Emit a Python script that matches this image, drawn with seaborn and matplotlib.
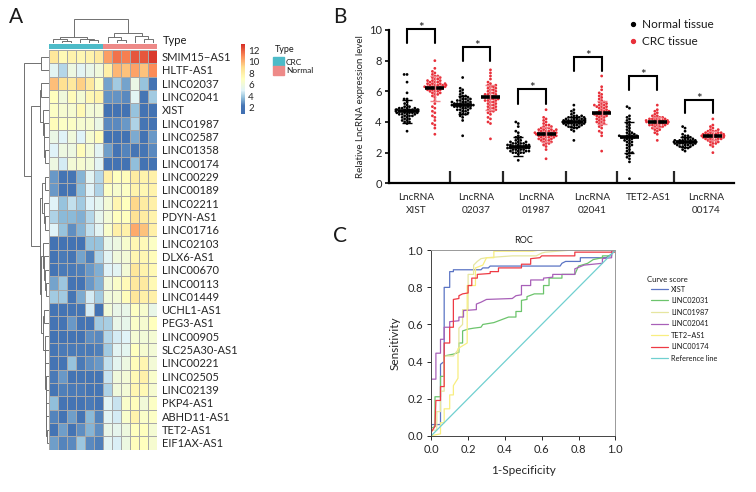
import numpy as np
import pandas as pd
import seaborn as sns
import matplotlib
matplotlib.use("Agg")
import matplotlib.pyplot as plt
from matplotlib.colors import ListedColormap, LinearSegmentedColormap, Normalize
from matplotlib.lines import Line2D
from matplotlib.patches import Patch

# ---- heatmap data ----
genes = ["SMIM15−AS1", "HLTF-AS1", "LINC02037", "LINC02041", "XIST", "LINC01987", "LINC02587",
         "LINC01358", "LINC00174", "LINC00229", "LINC00189", "LINC02211", "PDYN-AS1", "LINC01716",
         "LINC02103", "DLX6-AS1", "LINC00670", "LINC00113", "LINC01449", "UCHL1-AS1", "PEG3-AS1",
         "LINC00905", "SLC25A30-AS1", "LINC00221", "LINC02505", "LINC02139", "PKP4-AS1",
         "ABHD11-AS1", "TET2-AS1", "EIF1AX-AS1"]
expr = [
    [8.5, 7.4, 7.8, 7.5, 7.8, 8.3, 10.6, 11.6, 11.3, 12.2, 12.2, 12.9],
    [5.2, 4.3, 5.8, 5.2, 5.6, 6.0, 8.0, 10.0, 9.7, 10.5, 9.7, 11.0],
    [9.8, 8.9, 8.4, 9.4, 8.4, 6.8, 3.2, 4.0, 3.2, 5.7, 3.8, 2.0],
    [7.0, 6.0, 7.2, 6.3, 7.5, 7.8, 2.9, 2.9, 2.7, 5.2, 2.2, 4.0],
    [6.8, 6.4, 6.4, 7.4, 6.2, 6.2, 1.8, 1.8, 1.8, 3.8, 1.8, 1.8],
    [7.2, 6.8, 6.8, 6.4, 6.4, 5.7, 2.7, 2.7, 3.0, 4.2, 2.2, 2.1],
    [5.7, 5.0, 6.0, 5.0, 6.4, 7.2, 1.9, 1.9, 1.9, 3.3, 1.8, 3.0],
    [5.0, 5.8, 5.8, 7.2, 6.2, 5.2, 3.1, 2.0, 2.6, 2.3, 2.2, 2.7],
    [5.8, 4.8, 6.2, 6.4, 6.1, 5.2, 1.9, 1.8, 1.9, 3.7, 1.9, 1.9],
    [3.0, 2.0, 2.3, 3.5, 5.2, 4.3, 8.0, 7.0, 7.2, 8.2, 7.8, 7.9],
    [3.0, 1.9, 1.9, 3.7, 5.0, 4.2, 6.8, 6.5, 6.8, 7.8, 7.5, 7.8],
    [5.0, 3.8, 4.5, 4.0, 5.0, 5.3, 6.2, 7.6, 7.0, 9.2, 8.2, 8.0],
    [4.2, 3.6, 3.6, 3.4, 4.3, 5.4, 6.2, 7.0, 7.0, 8.8, 8.2, 7.8],
    [5.0, 3.8, 2.8, 3.5, 4.5, 5.2, 6.6, 8.0, 7.9, 10.3, 9.7, 8.0],
    [1.8, 1.9, 1.9, 1.9, 3.8, 3.8, 5.5, 5.8, 6.5, 7.5, 7.3, 6.8],
    [2.1, 2.4, 2.2, 3.2, 2.5, 4.2, 5.2, 6.0, 6.2, 7.6, 7.5, 7.2],
    [2.1, 2.4, 2.4, 2.5, 3.0, 3.4, 5.0, 5.2, 6.2, 8.5, 7.8, 7.4],
    [3.2, 3.9, 2.0, 2.0, 3.0, 3.5, 6.0, 6.7, 7.3, 8.4, 8.3, 7.4],
    [4.0, 4.0, 2.3, 3.3, 4.8, 4.0, 6.0, 6.2, 7.2, 8.5, 8.0, 8.0],
    [2.0, 2.0, 2.2, 2.3, 4.8, 1.9, 6.1, 5.6, 5.6, 6.9, 6.5, 5.6],
    [2.0, 2.0, 3.0, 2.0, 2.0, 4.0, 4.1, 5.6, 5.5, 6.7, 6.4, 7.0],
    [1.9, 1.9, 2.0, 1.9, 2.8, 2.7, 4.3, 4.8, 5.0, 6.3, 6.1, 6.3],
    [2.2, 2.4, 2.4, 2.4, 2.4, 2.5, 4.0, 5.2, 5.3, 7.0, 6.4, 6.2],
    [2.1, 2.1, 3.8, 2.4, 2.8, 3.0, 4.5, 5.3, 5.8, 7.2, 7.6, 6.2],
    [2.4, 3.0, 2.1, 2.3, 2.2, 2.2, 4.6, 6.0, 6.2, 7.4, 7.9, 6.6],
    [2.3, 2.5, 2.4, 2.4, 2.2, 2.3, 4.2, 6.0, 6.2, 7.6, 7.4, 6.4],
    [3.7, 2.1, 2.1, 2.1, 2.4, 2.0, 5.1, 4.6, 6.6, 7.1, 6.1, 6.8],
    [2.6, 2.1, 3.1, 2.0, 3.6, 2.6, 5.2, 4.8, 6.6, 7.8, 6.7, 6.8],
    [2.0, 3.1, 2.1, 2.8, 3.5, 2.8, 5.6, 5.4, 5.9, 7.0, 7.0, 6.3],
    [3.1, 2.6, 2.7, 3.9, 2.7, 2.5, 5.2, 4.9, 5.8, 7.1, 7.0, 6.4],
]
sample_type = [0] * 6 + [1] * 6
type_names = ["CRC", "Normal"]

# dendrograms as (height, left, right), leaves are row/column numbers
col_tree = (24, (6.5, (4, 0, (2.5, 1, 2)), (4.5, 3, (3, 4, 5))),
            (10, (6, 6, (3.5, 7, 8)), (7, 9, (4, 10, 11))))
row_top = (9, (8, 2, 3), (6, 4, (5, 5, (4.5, 6, (4, 7, 8)))))
row_mid = (6.5, (4, 9, 10), (5, 11, (4, 12, 13)))
row_a = (6, 14, (4.5, 15, (3.5, 16, (3, 17, 18))))
row_b = (5.5, (4.5, 19, 20), (4, 21, (3.6, 22, (3.2, 23, (3, 24, (2.7, 25, (2.4, 26, (2.2, 27, (2, 28, 29)))))))))
row_tree = (24.3, (7.6, 0, 1), (18, row_top, (9, row_mid, (8, row_a, row_b))))

# ---- beeswarm data ----
xist_n = [3.4, 3.9, 4.0, 4.0, 4.1, 4.1, 4.2, 4.2, 4.3, 4.3, 4.4, 4.4, 4.4, 4.5, 4.5, 4.5, 4.5, 4.6, 4.6, 4.6,
          4.6, 4.6, 4.7, 4.7, 4.7, 4.7, 4.7, 4.7, 4.8, 4.8, 4.8, 4.8, 4.8, 4.8, 4.8, 4.9, 4.9, 4.9, 4.9, 5.0,
          5.0, 5.1, 5.2, 5.3, 5.5, 5.5, 5.9, 6.6, 7.1, 7.1]
xist_c = [3.2, 3.6, 3.8, 3.9, 4.1, 4.3, 4.4, 4.6, 4.7, 4.9, 5.0, 5.2, 5.4, 5.6, 5.7, 5.8, 5.8, 5.9, 5.9, 6.0,
          6.0, 6.0, 6.1, 6.1, 6.1, 6.2, 6.2, 6.2, 6.2, 6.3, 6.3, 6.3, 6.3, 6.3, 6.4, 6.4, 6.4, 6.4, 6.4, 6.5,
          6.5, 6.5, 6.5, 6.6, 6.6, 6.6, 6.7, 6.7, 6.7, 6.8, 6.8, 6.9, 6.9, 7.0, 7.0, 7.1, 7.2, 7.3, 7.5, 8.0]
l02037_n = [3.1, 4.1, 4.3, 4.4, 4.5, 4.5, 4.6, 4.6, 4.7, 4.7, 4.8, 4.8, 4.8, 4.9, 4.9, 4.9, 5.0, 5.0, 5.0, 5.0,
            5.1, 5.1, 5.1, 5.1, 5.1, 5.2, 5.2, 5.2, 5.2, 5.3, 5.3, 5.3, 5.3, 5.4, 5.4, 5.4, 5.5, 5.5, 5.5, 5.6,
            5.6, 5.7, 5.7, 5.8, 5.9, 6.0, 6.1, 6.2, 6.9]
l02037_c = [2.9, 3.9, 4.0, 4.2, 4.3, 4.5, 4.6, 4.7, 4.7, 4.8, 4.8, 4.9, 4.9, 5.0, 5.0, 5.1, 5.1, 5.2, 5.2, 5.3,
            5.3, 5.4, 5.4, 5.4, 5.5, 5.5, 5.5, 5.6, 5.6, 5.6, 5.7, 5.7, 5.8, 5.8, 5.8, 5.9, 5.9, 6.0, 6.0, 6.1,
            6.1, 6.2, 6.2, 6.3, 6.3, 6.4, 6.4, 6.5, 6.6, 6.8, 7.0, 7.2, 7.4]
l01987_n = [1.5, 1.9, 2.0, 2.0, 2.0, 2.0, 2.1, 2.1, 2.1, 2.1, 2.2, 2.2, 2.2, 2.2, 2.3, 2.3, 2.3, 2.3, 2.3, 2.4,
            2.4, 2.4, 2.4, 2.4, 2.5, 2.5, 2.5, 2.5, 2.5, 2.6, 2.6, 2.6, 2.6, 2.7, 2.7, 2.7, 2.8, 2.8, 2.9, 3.0,
            3.0, 3.1, 3.3, 3.4, 3.7, 3.9, 4.0]
l01987_c = [1.6, 2.2, 2.4, 2.5, 2.6, 2.6, 2.7, 2.7, 2.8, 2.8, 2.8, 2.9, 2.9, 2.9, 3.0, 3.0, 3.0, 3.0, 3.1, 3.1,
            3.1, 3.1, 3.2, 3.2, 3.2, 3.2, 3.2, 3.3, 3.3, 3.3, 3.3, 3.3, 3.4, 3.4, 3.4, 3.4, 3.5, 3.5, 3.5, 3.5,
            3.6, 3.6, 3.6, 3.7, 3.7, 3.8, 3.8, 3.9, 4.0, 4.1, 4.2, 4.3, 4.8]
l02041_n = [2.8, 3.4, 3.5, 3.6, 3.6, 3.7, 3.7, 3.7, 3.8, 3.8, 3.8, 3.8, 3.9, 3.9, 3.9, 3.9, 3.9, 4.0, 4.0, 4.0,
            4.0, 4.0, 4.0, 4.1, 4.1, 4.1, 4.1, 4.1, 4.1, 4.2, 4.2, 4.2, 4.2, 4.2, 4.3, 4.3, 4.3, 4.3, 4.4, 4.4,
            4.4, 4.5, 4.6, 4.7, 4.8, 5.1]
l02041_c = [2.1, 3.1, 3.3, 3.4, 3.6, 3.7, 3.8, 3.9, 3.9, 4.0, 4.0, 4.1, 4.1, 4.2, 4.2, 4.3, 4.3, 4.4, 4.4, 4.4,
            4.5, 4.5, 4.5, 4.6, 4.6, 4.6, 4.7, 4.7, 4.7, 4.8, 4.8, 4.9, 4.9, 5.0, 5.0, 5.0, 5.1, 5.1, 5.1, 5.2,
            5.2, 5.3, 5.3, 5.4, 5.5, 5.6, 5.7, 5.8, 5.9, 6.1, 6.3, 7.0]
tet2_n = [0.3, 1.4, 1.6, 1.7, 1.8, 1.9, 2.0, 2.0, 2.1, 2.2, 2.3, 2.4, 2.5, 2.5, 2.6, 2.7, 2.7, 2.8, 2.8, 2.9,
          2.9, 3.0, 3.0, 3.0, 3.0, 3.1, 3.1, 3.1, 3.1, 3.2, 3.2, 3.3, 3.3, 3.4, 3.5, 3.6, 3.7, 3.8, 3.9, 4.0,
          4.1, 4.2, 4.3, 4.4, 4.9, 5.0]
tet2_c = [2.8, 3.2, 3.3, 3.4, 3.5, 3.5, 3.6, 3.6, 3.7, 3.7, 3.7, 3.8, 3.8, 3.8, 3.8, 3.9, 3.9, 3.9, 3.9, 4.0,
          4.0, 4.0, 4.0, 4.0, 4.0, 4.1, 4.1, 4.1, 4.1, 4.1, 4.2, 4.2, 4.2, 4.2, 4.3, 4.3, 4.3, 4.4, 4.4, 4.5,
          4.6, 4.7, 4.8, 5.1]
l00174_n = [2.1, 2.2, 2.3, 2.3, 2.4, 2.4, 2.4, 2.5, 2.5, 2.5, 2.5, 2.6, 2.6, 2.6, 2.6, 2.6, 2.7, 2.7, 2.7, 2.7,
            2.7, 2.7, 2.8, 2.8, 2.8, 2.8, 2.8, 2.9, 2.9, 2.9, 3.0, 3.0, 3.1, 3.1, 3.2, 3.4, 3.6, 3.7]
l00174_c = [2.0, 2.4, 2.5, 2.6, 2.6, 2.7, 2.7, 2.8, 2.8, 2.8, 2.9, 2.9, 2.9, 2.9, 3.0, 3.0, 3.0, 3.0, 3.0, 3.1,
            3.1, 3.1, 3.1, 3.1, 3.1, 3.2, 3.2, 3.2, 3.2, 3.2, 3.3, 3.3, 3.3, 3.3, 3.4, 3.4, 3.4, 3.5, 3.5, 3.6,
            3.7, 3.8, 4.2]
swarm_values = [xist_n, xist_c, l02037_n, l02037_c, l01987_n, l01987_c,
                l02041_n, l02041_c, tet2_n, tet2_c, l00174_n, l00174_c]
group_means = [4.7, 6.2, 5.1, 5.6, 2.4, 3.2, 4.0, 4.6, 3.0, 4.0, 2.7, 3.1]
group_sds = [0.75, 0.8, 0.6, 0.8, 0.6, 0.5, 0.3, 0.75, 1.0, 0.35, 0.3, 0.3]
bracket_low = [9.17, 8.0, 5.2, 7.35, 6.08, 4.56]
bracket_top = [10.05, 8.9, 6.13, 8.26, 6.98, 5.45]
lnc_labels = ["LncRNA\nXIST", "LncRNA\n02037", "LncRNA\n01987", "LncRNA\n02041", "TET2-AS1", "LncRNA\n00174"]
lnc_label_pos = [0.32, 2.48, 4.64, 6.65, 8.67, 10.76]
divider_pos = [1.55, 3.45, 5.7, 7.55, 9.6]

# ---- ROC data ----
roc_curves = {
    "XIST": ([0, 0, 0.05, 0.05, 0.07, 0.07, 0.10, 0.10, 0.12, 0.12, 0.27, 0.28, 0.31, 0.32, 0.70, 0.71, 0.73, 0.81, 0.81, 0.95, 0.98, 1],
             [0, 0.06, 0.06, 0.385, 0.40, 0.80, 0.80, 0.885, 0.885, 0.895, 0.895, 0.905, 0.905, 0.915, 0.915, 0.93, 0.94, 0.94, 0.96, 0.96, 0.98, 1]),
    "LINC02031": ([0, 0, 0.02, 0.02, 0.05, 0.05, 0.07, 0.07, 0.12, 0.15, 0.15, 0.17, 0.17, 0.2, 0.23, 0.27, 0.28, 0.34, 0.38, 0.42, 0.46, 0.46, 0.49, 0.49, 0.52, 0.52, 0.56, 0.61, 0.61, 0.64, 0.64, 0.71, 0.71, 0.78, 0.80, 0.85, 0.88, 0.93, 0.93, 0.98, 0.98, 1],
                  [0, 0.04, 0.05, 0.21, 0.21, 0.32, 0.32, 0.43, 0.44, 0.45, 0.50, 0.50, 0.565, 0.575, 0.58, 0.585, 0.60, 0.61, 0.625, 0.64, 0.64, 0.67, 0.67, 0.73, 0.735, 0.75, 0.765, 0.765, 0.81, 0.81, 0.85, 0.85, 0.87, 0.87, 0.915, 0.93, 0.95, 0.96, 0.97, 0.97, 1, 1]),
    "LINC01987": ([0, 0, 0.03, 0.03, 0.05, 0.05, 0.07, 0.07, 0.12, 0.15, 0.15, 0.17, 0.17, 0.2, 0.2, 0.23, 0.23, 0.25, 0.27, 0.3, 0.44, 0.57, 0.6, 0.62, 0.75, 1],
                  [0, 0.03, 0.03, 0.13, 0.13, 0.24, 0.24, 0.43, 0.43, 0.47, 0.58, 0.60, 0.68, 0.68, 0.87, 0.87, 0.92, 0.94, 0.955, 0.96, 0.97, 0.97, 0.985, 0.99, 1, 1]),
    "LINC02041": ([0, 0, 0.025, 0.025, 0.05, 0.05, 0.07, 0.07, 0.1, 0.1, 0.15, 0.15, 0.175, 0.175, 0.245, 0.245, 0.27, 0.3, 0.44, 0.46, 0.49, 0.49, 0.54, 0.54, 0.61, 0.61, 0.66, 0.66, 0.78, 0.78, 0.83, 0.93, 0.93, 0.98, 0.98, 1],
                  [0, 0.305, 0.305, 0.445, 0.445, 0.52, 0.52, 0.585, 0.585, 0.615, 0.62, 0.64, 0.64, 0.675, 0.68, 0.71, 0.72, 0.735, 0.74, 0.755, 0.76, 0.81, 0.81, 0.84, 0.84, 0.85, 0.855, 0.87, 0.87, 0.90, 0.92, 0.93, 0.955, 0.96, 1, 1]),
    "TET2−AS1": ([0, 0.05, 0.05, 0.07, 0.07, 0.1, 0.1, 0.12, 0.12, 0.145, 0.145, 0.195, 0.195, 0.24, 0.24, 0.28, 0.3, 0.34, 0.34, 0.55, 0.58, 1],
                 [0, 0.01, 0.07, 0.07, 0.145, 0.145, 0.22, 0.22, 0.27, 0.31, 0.47, 0.5, 0.81, 0.81, 0.905, 0.92, 0.96, 0.96, 0.995, 0.995, 1, 1]),
    "LINC00174": ([0, 0.02, 0.025, 0.05, 0.05, 0.07, 0.07, 0.1, 0.1, 0.12, 0.12, 0.15, 0.15, 0.17, 0.2, 0.2, 0.22, 0.22, 0.25, 0.25, 0.32, 0.32, 0.365, 0.365, 0.49, 0.49, 0.54, 0.54, 0.59, 0.6, 0.78, 0.78, 1, 1],
                  [0.02, 0.05, 0.19, 0.19, 0.265, 0.265, 0.5, 0.5, 0.585, 0.585, 0.735, 0.74, 0.755, 0.765, 0.77, 0.81, 0.81, 0.85, 0.85, 0.87, 0.875, 0.885, 0.885, 0.905, 0.905, 0.925, 0.925, 0.955, 0.96, 0.97, 0.97, 0.99, 0.99, 1]),
    "Reference line": ([0, 1], [0, 1]),
}
roc_colors = ["#5b74c4", "#6cc46c", "#e6e6a0", "#a860b8", "#f8ee80", "#ee3a44", "#70d0d0"]
heat_levels = [0.8, 2.3, 3.7, 5.0, 7.0, 9.0, 11.0, 13.1]
heat_colors = ["#3f6fb2", "#4575b4", "#91bfdb", "#e0f3f8", "#ffffbf", "#fee090", "#fc8d59", "#d73027"]

W, H = 756, 492
TEAL, SALMON = "#4dbbc8", "#ee8a88"

sns.set_theme(style="white")
plt.rcParams["font.family"] = ["Lato", "DejaVu Sans"]
plt.rcParams["text.color"] = "#1a1a1a"
fig = plt.figure(figsize=(W / 100, H / 100), dpi=100)


def box(left, top, right, bottom):
    return fig.add_axes([left / W, 1 - bottom / H, (right - left) / W, (bottom - top) / H])


def label(x, y, s, **kw):
    fig.text(x / W, 1 - y / H, s, va="center", **kw)


def draw_tree(ax, node, horizontal):
    if not isinstance(node, tuple):
        return node + 0.5, 0
    pa, ha = draw_tree(ax, node[1], horizontal)
    pb, hb = draw_tree(ax, node[2], horizontal)
    pos = [pa, pa, pb, pb]
    hts = [ha, node[0], node[0], hb]
    xy = (pos, hts) if horizontal else (hts, pos)
    ax.plot(*xy, color="#707070", lw=0.7, solid_joinstyle="miter")
    return (pa + pb) / 2, node[0]


# ---- A: heatmap ----
ax_hm = box(48.6, 50, 157.4, 449.5)
ax_cb = box(240.8, 44.3, 245.4, 114.3)
hm_df = pd.DataFrame(expr, index=genes)
heat_norm = Normalize(heat_levels[0], heat_levels[-1])
heat_cmap = LinearSegmentedColormap.from_list("heat", list(zip(heat_norm(heat_levels), heat_colors)))
sns.heatmap(hm_df, ax=ax_hm, cmap=heat_cmap, vmin=0.8, vmax=13.1, linewidths=0.5, linecolor="#a8a8a8",
            xticklabels=False, yticklabels=True, cbar_ax=ax_cb, cbar_kws={"ticks": [2, 4, 6, 8, 10, 12]})
ax_hm.set_xlabel("")
ax_hm.yaxis.tick_right()
ax_hm.tick_params(axis="y", length=0, pad=3, labelsize=8, labelrotation=0)
ax_cb.tick_params(length=0, pad=2, labelsize=7)
for s in ax_cb.spines.values():
    s.set_visible(False)

ax_ann = box(48.6, 43.7, 157.4, 49)
sns.heatmap(pd.DataFrame([sample_type]), ax=ax_ann, cmap=ListedColormap([TEAL, SALMON]), cbar=False,
            xticklabels=False, yticklabels=False)
label(163, 41, "Type", fontsize=8)

ax_top = box(48.6, 17, 157.4, 43)
draw_tree(ax_top, col_tree, True)
ax_top.set_xlim(0, 12)
ax_top.set_ylim(0, 26)
ax_top.axis("off")

ax_left = box(22, 50, 48.6, 449.5)
draw_tree(ax_left, row_tree, False)
ax_left.set_xlim(26.6, 0)
ax_left.set_ylim(30, 0)
ax_left.axis("off")

label(275, 49, "Type", fontsize=6.5)
fig.legend(handles=[Patch(color=TEAL, label=type_names[0]), Patch(color=SALMON, label=type_names[1])],
           loc="upper left", bbox_to_anchor=(273 / W, 1 - 57.5 / H), frameon=False, fontsize=6,
           handlelength=1.35, handleheight=1.2, handletextpad=0.2, labelspacing=0, borderpad=0, borderaxespad=0)

# ---- B: beeswarm ----
ax_b = box(388.7, 30, 734, 183.3)
swarm_df = pd.DataFrame({
    "group": [i for i, v in enumerate(swarm_values) for _ in v],
    "value": [x for v in swarm_values for x in v],
})
swarm_df["tissue"] = swarm_df["group"] % 2
sns.swarmplot(data=swarm_df, x="group", y="value", hue="tissue", palette=["black", "#e8303a"], size=2.0,
              linewidth=0, legend=False, ax=ax_b, zorder=2)
for i, (m, sd) in enumerate(zip(group_means, group_sds)):
    ax_b.plot([i - 0.34, i + 0.34], [m, m], color="black", lw=2.6, zorder=3, solid_capstyle="butt")
    ax_b.errorbar(i, m, yerr=sd, color="black" if i % 2 == 0 else "#f08088", lw=1, capsize=3.5, capthick=1, zorder=3)
for j, (lo, top) in enumerate(zip(bracket_low, bracket_top)):
    ax_b.plot([2 * j, 2 * j, 2 * j + 1, 2 * j + 1], [lo, top, top, lo], color="black", lw=1.5, clip_on=False,
              solid_joinstyle="miter")
    ax_b.text(2 * j + 0.5, top - 0.2, "*", ha="center", va="baseline", fontsize=9.5, clip_on=False)
ax_b.set_xlim(-0.66, 11.76)
ax_b.set_ylim(0, 10)
ax_b.set_xlabel("")
ax_b.set_ylabel("Relative LncRNA expression level", fontsize=7, labelpad=3)
sns.despine(ax=ax_b)
for s in ("left", "bottom"):
    ax_b.spines[s].set_linewidth(1.6)
    ax_b.spines[s].set_color("black")
ax_b.set_yticks([0, 2, 4, 6, 8, 10])
ax_b.tick_params(axis="y", left=True, length=3, width=1.4, labelsize=8, pad=2)
ax_b.set_xticks(divider_pos)
ax_b.set_xticklabels([])
ax_b.tick_params(axis="x", which="major", bottom=True, direction="in", length=9, width=1.6)
ax_b.set_xticks(lnc_label_pos, minor=True)
ax_b.set_xticklabels(lnc_labels, minor=True, fontsize=7.2, linespacing=1.6)
ax_b.tick_params(axis="x", which="minor", length=0, pad=7)

b_handles = [Line2D([], [], ls="", marker="o", ms=2.8, color="black", label="Normal tissue"),
             Line2D([], [], ls="", marker="o", ms=2.8, color="#e8303a", label="CRC tissue")]
fig.legend(handles=b_handles, loc="upper left", bbox_to_anchor=(628 / W, 1 - 19.5 / H), frameon=False, fontsize=8.5,
           handlelength=0.8, handletextpad=0.4, labelspacing=0.5, borderpad=0, borderaxespad=0)

# ---- C: ROC ----
ax_c = box(431.3, 250.3, 615.3, 435.7)
for (name, (fx, fy)), c in zip(roc_curves.items(), roc_colors):
    sns.lineplot(x=fx, y=fy, sort=False, estimator=None, color=c, lw=0.9, ax=ax_c, label=name, legend=False)
ax_c.set_xlim(0, 1)
ax_c.set_ylim(0, 1)
ax_c.set_title("ROC", fontsize=6.5, pad=5)
ax_c.set_xlabel("1-Specificity", fontsize=8.5, labelpad=7)
ax_c.set_ylabel("Sensitivity", fontsize=8.5, labelpad=5)
ax_c.set_xticks(np.arange(0, 1.01, 0.2))
ax_c.set_yticks(np.arange(0, 1.01, 0.2))
ax_c.tick_params(bottom=True, left=True, length=3, width=0.7, labelsize=8, pad=3)
for s in ax_c.spines.values():
    s.set_linewidth(0.7)
    s.set_color("#444444")
ax_c.spines["top"].set_color("#999999")
ax_c.spines["right"].set_color("#999999")
handles, names = ax_c.get_legend_handles_labels()
label(647, 279, "Curve score", fontsize=5.6)
fig.legend(handles, names, loc="upper left", bbox_to_anchor=(651 / W, 1 - 285.5 / H),
           frameon=False, fontsize=5.3, handlelength=2.3, handletextpad=0.45,
           labelspacing=0.62, borderpad=0, borderaxespad=0)

# ---- panel letters ----
label(9, 17, "A", fontsize=15)
label(333, 17, "B", fontsize=15)
label(333, 236, "C", fontsize=15)

fig.savefig("out.png", dpi=100)
